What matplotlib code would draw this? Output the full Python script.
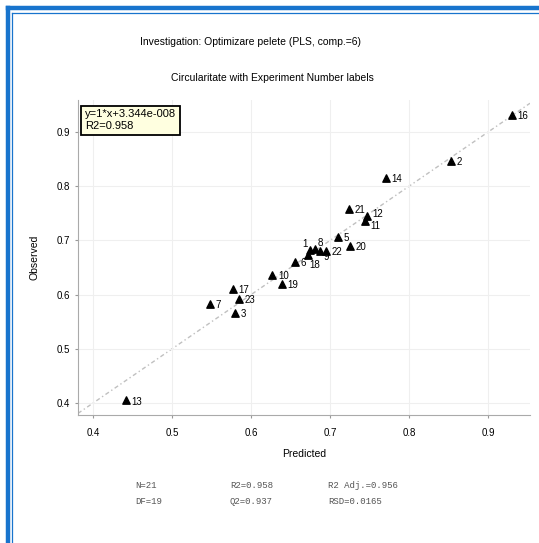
import matplotlib
matplotlib.use("Agg")
import matplotlib.pyplot as plt
from matplotlib.lines import Line2D

labels = ["16", "2", "14", "21", "12", "11", "5", "20", "22", "18", "1", "8", "9",
          "6", "10", "19", "17", "23", "7", "3", "13"]
predicted = [0.930, 0.853, 0.771, 0.724, 0.747, 0.744, 0.710, 0.725, 0.695, 0.672, 0.675, 0.681, 0.687,
             0.656, 0.627, 0.639, 0.577, 0.585, 0.548, 0.580, 0.442]
observed = [0.931, 0.846, 0.815, 0.758, 0.745, 0.736, 0.706, 0.690, 0.680, 0.674, 0.683, 0.685, 0.680,
            0.660, 0.636, 0.620, 0.610, 0.592, 0.583, 0.566, 0.405]
xticks = [0.4, 0.5, 0.6, 0.7, 0.8, 0.9]
yticks = [0.4, 0.5, 0.6, 0.7, 0.8, 0.9]
label_offsets = {"11": (4, -6), "12": (4, -1), "18": (1, -10), "1": (-6, 2), "8": (2, 2), "9": (3, -6)}

fig = plt.figure(figsize=(5.39, 5.43), dpi=100)
fig.patch.set_facecolor("white")

# blue frame
fig.add_artist(Line2D([8/539, 8/539], [0, 1 - 8/543], color="#1874CD", lw=3.2, transform=fig.transFigure))
fig.add_artist(Line2D([8/539, 1], [1 - 8/543, 1 - 8/543], color="#1874CD", lw=3.2, transform=fig.transFigure))
fig.add_artist(Line2D([12.5/539, 12.5/539], [0, 1 - 12.5/543], color="#1874CD", lw=0.9, transform=fig.transFigure))
fig.add_artist(Line2D([12.5/539, 1], [1 - 12.5/543, 1 - 12.5/543], color="#1874CD", lw=0.9, transform=fig.transFigure))

ax = fig.add_axes([78/539, 1 - 415/543, (530 - 78)/539, (415 - 100)/543])
xmin, xmax = 0.381, 0.953
ymin, ymax = 0.378, 0.959
ax.set_xlim(xmin, xmax)
ax.set_ylim(ymin, ymax)

ax.plot([xmin, xmax], [xmin, xmax], color="#c0c0c0", lw=1.0, ls=(0, (3, 2, 1, 2)), zorder=1)
ax.scatter(predicted, observed, marker="^", s=28, color="black", zorder=3)
for x, y, t in zip(predicted, observed, labels):
    off = label_offsets.get(t, (4, -3))
    ax.annotate(t, (x, y), xytext=off, textcoords="offset points",
                fontsize=7, family="Liberation Sans", color="black")

ax.set_xticks(xticks)
ax.set_yticks(yticks)
ax.set_xticklabels([f"{v:.1f}" for v in xticks])
ax.set_yticklabels([f"{v:.1f}" for v in yticks])
ax.tick_params(axis="x", labelsize=7, length=2, color="#999999", pad=7)
ax.tick_params(axis="y", labelsize=7, length=2, color="#999999", pad=4)
for lbl in ax.get_xticklabels() + ax.get_yticklabels():
    lbl.set_family("Liberation Sans")
ax.grid(True, color="#efefef", lw=0.8)
for s in ["top", "right"]:
    ax.spines[s].set_visible(False)
for s in ["left", "bottom"]:
    ax.spines[s].set_color("#aaaaaa")
ax.set_xlabel("Predicted", fontsize=7.5, family="Liberation Sans", labelpad=8)
ax.set_ylabel("Observed", fontsize=7.5, family="Liberation Sans", labelpad=12)

ax.text(0.015, 0.97, "y=1*x+3.344e-008\nR2=0.958", transform=ax.transAxes, ha="left", va="top",
        fontsize=8, family="Liberation Sans", linespacing=1.15,
        bbox=dict(boxstyle="square,pad=0.35", facecolor="#FFFFE0", edgecolor="black", lw=1.3))

fig.text(250/539, 1 - 42/543, "Investigation: Optimizare pelete (PLS, comp.=6)", ha="center", va="center",
         fontsize=7.5, family="Liberation Sans")
fig.text(272/539, 1 - 78/543, "Circularitate with Experiment Number labels", ha="center", va="center",
         fontsize=7.5, family="Liberation Sans")

stats = [("N=21", 135, 485), ("R2=0.958", 230, 485), ("R2 Adj.=0.956", 328, 485),
         ("DF=19", 135, 502), ("Q2=0.937", 230, 502), ("RSD=0.0165", 328, 502)]
for t, x, y in stats:
    fig.text(x/539, 1 - y/543, t, ha="left", va="center", fontsize=6.5,
             family="Liberation Mono", color="#555555")

fig.savefig("out.png", dpi=100)
